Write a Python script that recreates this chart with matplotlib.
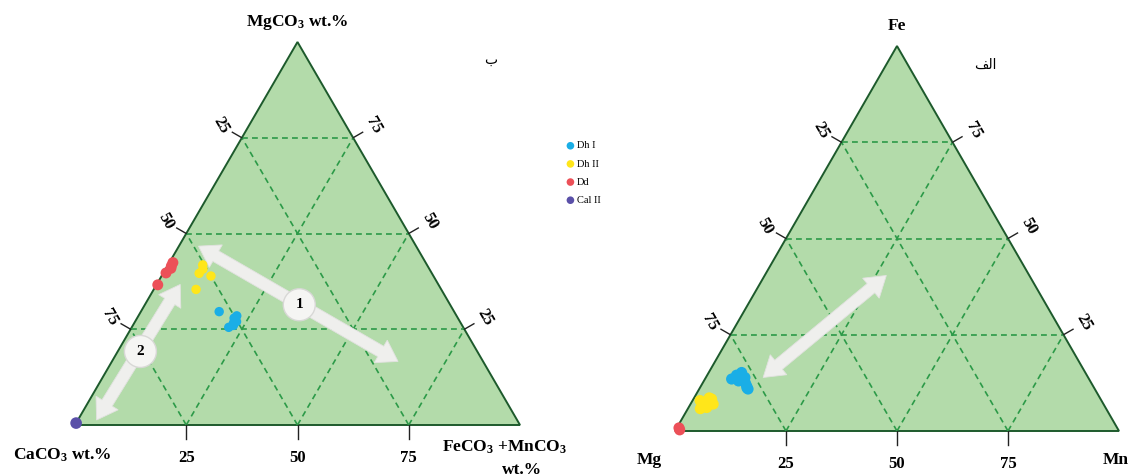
import matplotlib
matplotlib.use('Agg')
import matplotlib.pyplot as plt
from matplotlib.patches import Polygon, Circle
import numpy as np

plt.rcParams['font.family'] = ['Liberation Serif', 'DejaVu Sans']
plt.rcParams['mathtext.fontset'] = 'custom'
plt.rcParams['mathtext.rm'] = 'Liberation Serif:bold'
plt.rcParams['mathtext.default'] = 'rm'

# composition data, wt.% (MgCO3, FeCO3+MnCO3); CaCO3 is the rest
dh1_mg = [29.6, 27.9, 26.6, 25.5, 28.5, 27.0, 26.0]
dh1_femn = [17.6, 21.8, 22.3, 21.8, 22.1, 22.8, 22.6]
dh2_mg = [41.8, 39.6, 38.9, 35.4, 40.7]
dh2_femn = [7.8, 8.1, 11.1, 9.5, 8.4]
dd_mg = [42.4, 40.9, 39.7, 36.6, 41.5]
dd_femn = [0.8, 1.1, 0.6, 0.3, 0.9]
cal2_mg = [0.5]
cal2_femn = [0.0]

# atomic proportions, % (Fe, Mn); Mg is the rest
dh1_fe = [13.5, 15.2, 13.9, 11.7, 10.9, 13.0, 14.5, 12.5, 11.2]
dh1_mn = [6.0, 7.4, 8.8, 10.3, 11.0, 7.8, 6.6, 9.6, 10.6]
dh2_fe = [7.9, 8.3, 6.1, 6.6, 7.0, 7.4, 5.8, 8.6]
dh2_mn = [1.7, 4.1, 4.1, 3.1, 5.1, 2.6, 2.8, 3.4]
dd_fe = [0.8, 0.3]
dd_mn = [0.5, 0.9]

series = ['Dh I', 'Dh II', 'Dd', 'Cal II']
colors = ['#1aaee6', '#ffe61a', '#ec5058', '#5a50a8']
ticks = [25, 50, 75]

fill = '#b3dbaa'
edge = '#1d5a2c'
grid_c = '#2c9a48'

# triangle corners: bottom-left, bottom-right, apex (pixels)
tri_a = np.array([[75, 425], [520, 425], [297.5, 42]])
tri_b = np.array([[675, 431], [1119, 431], [897, 46]])


def tern(tri, top, right):
    top = np.asarray(top, float) / 100
    right = np.asarray(right, float) / 100
    left = 1 - top - right
    x = left * tri[0, 0] + right * tri[1, 0] + top * tri[2, 0]
    y = left * tri[0, 1] + right * tri[1, 1] + top * tri[2, 1]
    return x, y


def double_arrow(ax, p0, p1, shaft=12, head_w=26, head_l=20, color='#efefed'):
    p0 = np.array(p0, float)
    p1 = np.array(p1, float)
    d = (p1 - p0) / np.linalg.norm(p1 - p0)
    n = np.array([-d[1], d[0]])
    s0 = p0 + d * head_l
    s1 = p1 - d * head_l
    pts = [p0, s0 + n * head_w / 2, s0 + n * shaft / 2, s1 + n * shaft / 2,
           s1 + n * head_w / 2, p1, s1 - n * head_w / 2, s1 - n * shaft / 2,
           s0 - n * shaft / 2, s0 - n * head_w / 2]
    ax.add_patch(Polygon(pts, closed=True, facecolor=color, edgecolor='#e2e2e0', lw=0.6, zorder=3))


def draw_triangle(ax, tri):
    ax.add_patch(Polygon(tri, closed=True, facecolor=fill, edgecolor=edge, lw=1.4, zorder=1))
    for k in ticks:
        f = 100 - k
        segs = [((k, 0), (k, f)), ((0, k), (f, k)), ((0, f), (f, 0))]
        for (t0, r0), (t1, r1) in segs:
            x, y = tern(tri, [t0, t1], [r0, r1])
            ax.plot(x, y, ls=(0, (3.5, 2.5)), color=grid_c, lw=1.2, zorder=2)
    for k in ticks:
        # left edge
        x, y = tern(tri, k, 0)
        v = np.array([-np.cos(np.pi / 6), -np.sin(np.pi / 6)])
        ax.plot([x, x + 11 * v[0]], [y, y + 11 * v[1]], color='#222222', lw=1, zorder=2)
        ax.text(x + 24 * v[0], y + 24 * v[1], str(100 - k), rotation=-60, ha='center', va='center',
                fontsize=12, fontweight='bold')
        # right edge
        x, y = tern(tri, k, 100 - k)
        v = np.array([np.cos(np.pi / 6), -np.sin(np.pi / 6)])
        ax.plot([x, x + 11 * v[0]], [y, y + 11 * v[1]], color='#222222', lw=1, zorder=2)
        ax.text(x + 24 * v[0], y + 24 * v[1], str(k), rotation=-60, ha='center', va='center',
                fontsize=12, fontweight='bold')
        # bottom edge
        x, y = tern(tri, 0, k)
        ax.plot([x, x], [y, y + 14], color='#222222', lw=1, zorder=2)
        ax.text(x, y + 33, str(k), ha='center', va='center', fontsize=12, fontweight='bold')


fig = plt.figure(figsize=(11.37, 4.76), dpi=100)
ax = fig.add_axes([0, 0, 1, 1])
ax.set_xlim(0, 1137)
ax.set_ylim(476, 0)
ax.axis('off')

draw_triangle(ax, tri_a)
draw_triangle(ax, tri_b)

# carbonate composition arrows
double_arrow(ax, tern(tri_a, 46.7, 4.4), tern(tri_a, 16.6, 64.3))
double_arrow(ax, tern(tri_a, 36.7, 5.3), tern(tri_a, 1.3, 4.2))
for (t, r), lab, rad in [((31.4, 34.7), '1', 16), ((19.2, 5.1), '2', 16)]:
    cx, cy = tern(tri_a, t, r)
    ax.add_patch(Circle((cx, cy), rad, facecolor='#f5f5f3', edgecolor='#d8d8d6', lw=1, zorder=4))
    ax.text(cx, cy, lab, ha='center', va='center', fontsize=11, fontweight='bold', zorder=5)

double_arrow(ax, tern(tri_b, 40.4, 27.4), tern(tri_b, 13.9, 12.9))

left_data = [(dh1_mg, dh1_femn), (dh2_mg, dh2_femn), (dd_mg, dd_femn), (cal2_mg, cal2_femn)]
sizes = [46, 46, 62, 70]
for (t, r), name, col, s in zip(left_data, series, colors, sizes):
    x, y = tern(tri_a, t, r)
    ax.scatter(x, y, s=s, color=col, edgecolors='none', zorder=6, label=name)

right_data = [(dh1_fe, dh1_mn, 0), (dh2_fe, dh2_mn, 1), (dd_fe, dd_mn, 2)]
for t, r, i in right_data:
    x, y = tern(tri_b, t, r)
    ax.scatter(x, y, s=64, color=colors[i], edgecolors='none', zorder=6)

leg = ax.legend(loc='upper left', bbox_to_anchor=(560 / 1137, 1 - 136 / 476), frameon=False,
                prop={'family': 'Liberation Serif', 'size': 7.5}, handletextpad=0.1,
                labelspacing=0.85, handlelength=1.0, borderpad=0)
for h in leg.legend_handles:
    h.set_sizes([30])

lab = dict(fontsize=12.5, fontweight='bold', ha='center', va='center')
ax.text(297, 22, r'MgCO$_{3}$ wt.%', **lab)
ax.text(62, 455, r'CaCO$_{3}$ wt.%', **lab)
ax.text(505, 447, r'FeCO$_{3}$ +MnCO$_{3}$', **lab)
ax.text(522, 470, 'wt.%', **lab)
ax.text(897, 26, 'Fe', **lab)
ax.text(649, 460, 'Mg', **lab)
ax.text(1116, 460, 'Mn', **lab)

# panel letters (pre-shaped Arabic forms)
ax.text(491, 60, '\ufe8f', family='DejaVu Sans', fontsize=10, ha='center', va='center')
ax.text(985, 65, '\ufed2\ufedf\ufe8d', family='DejaVu Sans', fontsize=10, ha='center', va='center')

fig.savefig('out.png', dpi=100)
